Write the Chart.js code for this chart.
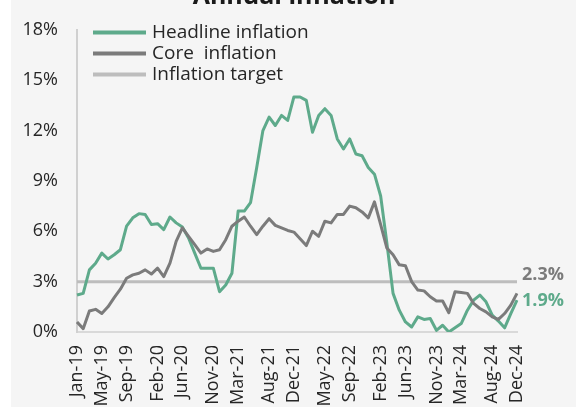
<!DOCTYPE html>
<html>
<head>
<meta charset="utf-8">
<script src="https://cdn.jsdelivr.net/npm/chart.js@4.4.1/dist/chart.umd.min.js"></script>
<style>
  html, body { margin: 0; padding: 0; background: #ffffff; overflow: hidden; }
  #chart-container { width: 576px; height: 407px; position: relative; }
</style>
</head>
<body>
<div id="chart-container"><canvas id="inflation-chart" width="576" height="407"></canvas></div>
<script>
// monthly categories, Jan-19 .. Dec-24
const years = ['19', '20', '21', '22', '23', '24']
const monthNames = ['Jan', 'Feb', 'Mar', 'Apr', 'May', 'Jun', 'Jul', 'Aug', 'Sep', 'Oct', 'Nov', 'Dec']
const months = []
years.forEach(y => monthNames.forEach(m => months.push(`${m}-${y}`)))

// which months get a label on the x axis
const tickMonths = ['Jan-19', 'May-19', 'Sep-19', 'Feb-20', 'Jun-20', 'Nov-20', 'Mar-21', 'Aug-21',
  'Dec-21', 'May-22', 'Sep-22', 'Feb-23', 'Jun-23', 'Nov-23', 'Mar-24', 'Aug-24', 'Dec-24']

const headline = [
  2.2, 2.3, 3.7, 4.1, 4.7, 4.35, 4.6, 4.9, 6.3, 6.8,
  7.05, 7.0, 6.4, 6.45, 6.1, 6.85, 6.5, 6.25, 5.6, 4.7,
  3.8, 3.8, 3.8, 2.4, 2.8, 3.5, 7.2, 7.2, 7.7, 9.8,
  12.0, 12.8, 12.3, 12.9, 12.6, 14.0, 14.0, 13.8, 11.9, 12.9,
  13.3, 12.9, 11.5, 10.9, 11.5, 10.6, 10.5, 9.8, 9.4, 8.1,
  5.3, 2.3, 1.3, 0.6, 0.3, 0.9, 0.75, 0.8, 0.1, 0.4,
  0.0, 0.25, 0.5, 1.3, 1.9, 2.2, 1.8, 1.0, 0.65, 0.25,
  1.1, 1.9
]

const core = [
  0.6, 0.2, 1.25, 1.35, 1.1, 1.5, 2.05, 2.55, 3.2, 3.4,
  3.5, 3.7, 3.45, 3.8, 3.3, 4.1, 5.4, 6.2, 5.7, 5.2,
  4.7, 4.95, 4.8, 4.9, 5.5, 6.3, 6.6, 6.85, 6.3, 5.8,
  6.3, 6.75, 6.35, 6.2, 6.05, 5.95, 5.55, 5.15, 6.0, 5.7,
  6.6, 6.5, 7.0, 7.0, 7.5, 7.4, 7.15, 6.8, 7.75, 6.4,
  5.0, 4.6, 4.0, 3.95, 3.0, 2.5, 2.45, 2.1, 1.85, 1.85,
  1.15, 2.4, 2.35, 2.3, 1.7, 1.4, 1.2, 0.9, 0.75, 1.1,
  1.6, 2.3
]

const targetRate = 3
const target = months.map(() => targetRate)

const GREEN = '#5eaa8b'
const GREY = '#7b7b7b'
const LIGHT = '#bdbdbd'
const TEXT = '#262626'
const FONT = '"Open Sans", sans-serif'

const legendItems = [
  { label: 'Headline inflation', color: GREEN },
  { label: 'Core  inflation', color: GREY },
  { label: 'Inflation target', color: LIGHT }
]

// background, clipped title, legend and end-of-line value labels
const decorations = {
  id: 'decorations',
  beforeDraw (chart) {
    const ctx = chart.ctx
    ctx.save()
    ctx.fillStyle = '#ffffff'
    ctx.fillRect(0, 0, chart.width, chart.height)
    ctx.fillStyle = '#f5f5f5'
    ctx.fillRect(11, 0, chart.width - 11, chart.height)
    ctx.restore()
  },
  afterDraw (chart) {
    const ctx = chart.ctx
    const xs = chart.scales.x
    const ys = chart.scales.y
    ctx.save()

    ctx.fillStyle = '#1a1a1a'
    ctx.font = `bold 25px ${FONT}`
    ctx.textAlign = 'center'
    ctx.textBaseline = 'alphabetic'
    ctx.fillText('Annual inflation', 294, 4)

    ctx.font = `19px ${FONT}`
    ctx.textAlign = 'left'
    ctx.textBaseline = 'middle'
    legendItems.forEach((item, i) => {
      const y = 32.5 + i * 21
      ctx.strokeStyle = item.color
      ctx.lineWidth = 4
      ctx.beginPath()
      ctx.moveTo(93, y)
      ctx.lineTo(146, y)
      ctx.stroke()
      ctx.fillStyle = TEXT
      ctx.fillText(item.label, 152, y)
    })

    const last = months.length - 1
    const xEnd = xs.getPixelForValue(last) + 5
    ctx.font = `bold 18px ${FONT}`
    ctx.fillStyle = GREY
    ctx.fillText(`${core[last].toFixed(1)}%`, xEnd, ys.getPixelForValue(core[last]) - 19)
    ctx.fillStyle = GREEN
    ctx.fillText(`${headline[last].toFixed(1)}%`, xEnd, ys.getPixelForValue(headline[last]) + 1)

    ctx.restore()
  }
}

const chart = new Chart(document.getElementById('inflation-chart'), {
  type: 'line',
  data: {
    labels: months,
    datasets: [
      { label: 'Core  inflation', data: core, borderColor: GREY, order: 0 },
      { label: 'Headline inflation', data: headline, borderColor: GREEN, order: 1 },
      { label: 'Inflation target', data: target, borderColor: LIGHT, order: 2 }
    ]
  },
  options: {
    responsive: false,
    animation: false,
    layout: { padding: { top: 26, right: 59, left: 0, bottom: 0 } },
    elements: {
      line: { borderWidth: 3, tension: 0, borderCapStyle: 'butt', borderJoinStyle: 'round' },
      point: { radius: 0, hoverRadius: 0 }
    },
    plugins: {
      legend: { display: false },
      title: { display: false },
      tooltip: { enabled: false }
    },
    scales: {
      x: {
        grid: { display: false, drawTicks: false },
        border: { display: true, color: '#d9d9d9', width: 2 },
        ticks: {
          autoSkip: false,
          minRotation: 90,
          maxRotation: 90,
          padding: 13,
          color: TEXT,
          font: { family: FONT, size: 18 },
          callback: (value, index) => tickMonths.includes(months[index]) ? months[index] : null
        },
        afterFit: scale => { scale.height = 75 }
      },
      y: {
        min: 0,
        max: 18,
        grid: { display: false, drawTicks: false },
        border: { display: true, color: '#d0d0d0', width: 2 },
        ticks: {
          stepSize: 3,
          padding: 19,
          color: TEXT,
          font: { family: FONT, size: 18 },
          callback: value => `${value}%`
        },
        afterFit: scale => { scale.width = 77 }
      }
    }
  },
  plugins: [decorations]
})
</script>
</body>
</html>
